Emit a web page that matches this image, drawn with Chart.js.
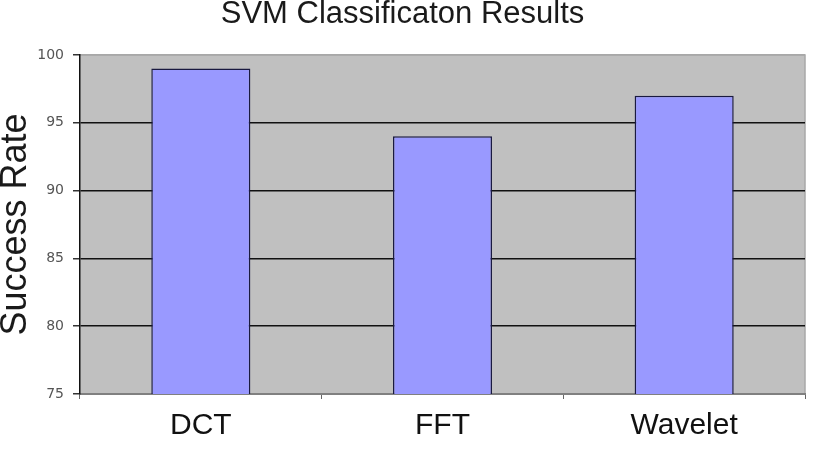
<!DOCTYPE html>
<html>
<head>
<meta charset="utf-8">
<script src="https://cdn.jsdelivr.net/npm/chart.js@4.4.1/dist/chart.umd.min.js"></script>
<style>
  html, body { margin: 0; padding: 0; background: #fff; }
  #wrap { width: 820px; height: 465px; }
</style>
</head>
<body>
<div id="wrap"><canvas id="svmChart" width="820" height="465"></canvas></div>
<script>
const methods = ['DCT', 'FFT', 'Wavelet'];
const successRate = [99, 94, 97];
const yTicks = [75, 80, 85, 90, 95, 100];

// gray plot background like the old spreadsheet chart
const plotBg = {
  id: 'plotBg',
  beforeDraw(chart) {
    const { ctx, chartArea: a } = chart;
    ctx.save();
    ctx.fillStyle = '#c0c0c0';
    ctx.fillRect(a.left, a.top, a.right - a.left, a.bottom - a.top);
    ctx.strokeStyle = '#a8a8a8';
    ctx.lineWidth = 1.5;
    ctx.beginPath();
    ctx.moveTo(a.left, a.top);
    ctx.lineTo(a.right, a.top);
    ctx.lineTo(a.right, a.bottom);
    ctx.stroke();
    ctx.restore();
  }
};

new Chart(document.getElementById('svmChart').getContext('2d'), {
  type: 'bar',
  data: {
    labels: methods,
    datasets: [{
      label: 'Success Rate',
      data: successRate,
      backgroundColor: '#9999ff',
      borderColor: '#1a1a40',
      borderWidth: 1.5,
      borderSkipped: false,
      categoryPercentage: 1,
      barPercentage: 0.41
    }]
  },
  options: {
    responsive: false,
    animation: false,
    layout: { padding: { top: 0, right: 15, bottom: 12, left: 0 } },
    plugins: {
      legend: { display: false },
      tooltip: { enabled: false },
      title: {
        display: true,
        text: 'SVM Classificaton Results',
        color: '#1a1a1a',
        font: { family: 'Liberation Sans, Arial, sans-serif', size: 31, weight: 'normal', lineHeight: 1 },
        padding: { top: -1, bottom: 25 }
      }
    },
    scales: {
      x: {
        offset: true,
        border: { display: true, color: '#808080', width: 2 },
        grid: {
          offset: true,
          drawOnChartArea: false,
          drawTicks: true,
          tickLength: 5,
          color: '#666'
        },
        ticks: {
          color: '#111',
          padding: 9,
          font: { family: 'Liberation Sans, Arial, sans-serif', size: 30 }
        }
      },
      y: {
        min: 75,
        max: 100,
        afterBuildTicks(scale) {
          scale.ticks = yTicks.map(v => ({ value: v }));
        },
        afterFit(scale) { scale.width = 80; },
        border: { display: true, color: '#111', width: 1.5 },
        grid: {
          color: ctx => (ctx.tick && ctx.tick.value === 100) ? '#a8a8a8' : '#111',
          lineWidth: 1.5,
          tickLength: 7,
          tickColor: '#333'
        },
        ticks: {
          color: '#555',
          padding: 9,
          font: { family: 'DejaVu Sans, Verdana, sans-serif', size: 14 }
        },
        title: {
          display: true,
          text: 'Success Rate',
          color: '#1a1a1a',
          font: { family: 'Liberation Sans, Arial, sans-serif', size: 36, weight: 'normal', lineHeight: 1 },
          padding: { top: -2, bottom: 0 }
        }
      }
    }
  },
  plugins: [plotBg]
});
</script>
</body>
</html>
